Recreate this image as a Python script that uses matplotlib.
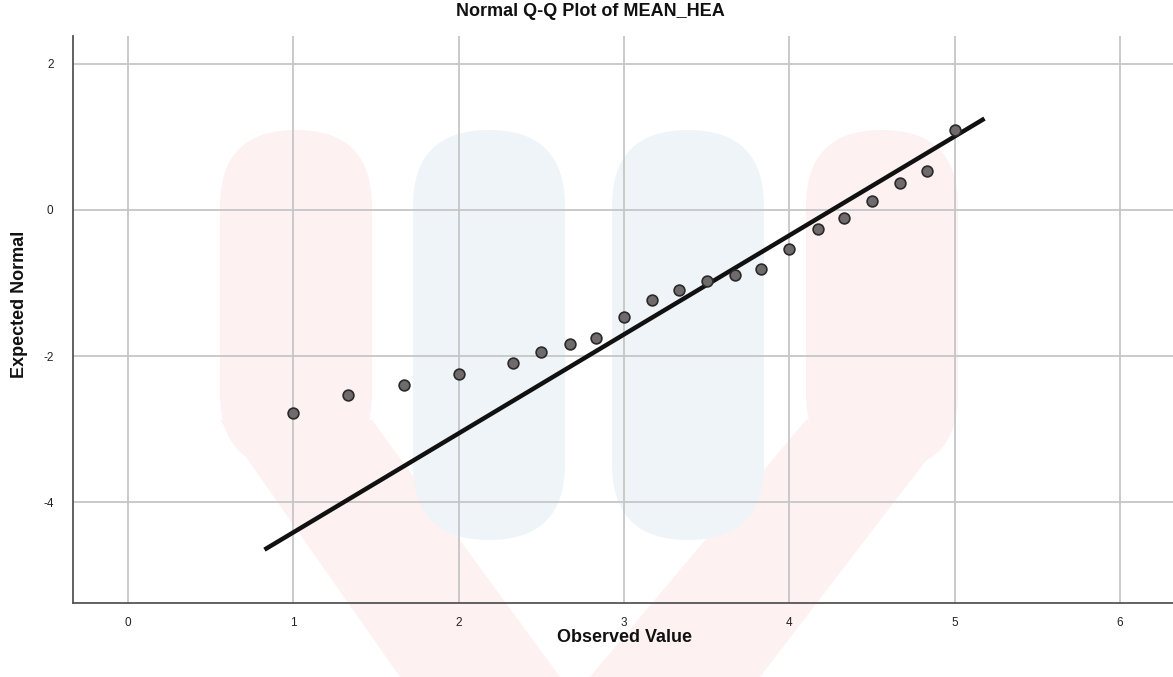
import matplotlib
matplotlib.use("Agg")
import matplotlib.pyplot as plt
from matplotlib.patches import FancyBboxPatch, Polygon

plt.rcParams["font.family"] = ["Liberation Sans", "DejaVu Sans"]
plt.rcParams["axes.unicode_minus"] = False

observed = [1.00, 1.33, 1.67, 2.00, 2.33, 2.50, 2.67, 2.83, 3.00, 3.17, 3.33,
            3.50, 3.67, 3.83, 4.00, 4.17, 4.33, 4.50, 4.67, 4.83, 5.00]
expected = [-2.78, -2.54, -2.40, -2.25, -2.10, -1.94, -1.84, -1.75, -1.47, -1.23, -1.10,
            -0.97, -0.89, -0.81, -0.54, -0.26, -0.11, 0.12, 0.37, 0.53, 1.10]

# reference line ends
line_x = [0.825, 5.18]
line_y = [-4.65, 1.25]

x_ticks = [0, 1, 2, 3, 4, 5, 6]
y_ticks = [-4, -2, 0, 2]

W, H = 1173, 677
fig = plt.figure(figsize=(W / 100, H / 100), dpi=100)

# faint watermark behind the chart, drawn in pixel space
bg = fig.add_axes([0, 0, 1, 1], zorder=0)
bg.set_xlim(0, W)
bg.set_ylim(H, 0)
bg.axis("off")
pink = "#fdf1f1"
blue = "#eff4f8"
bg.add_patch(Polygon([(220, 420), (372, 420), (560, 677), (400, 677)], closed=True,
                     fc=pink, ec="none"))
bg.add_patch(Polygon([(806, 420), (957, 420), (760, 677), (590, 677)], closed=True,
                     fc=pink, ec="none"))
for x0, col, bottom in [(220, pink, 470), (413, blue, 540), (612, blue, 540), (806, pink, 470)]:
    bg.add_patch(FancyBboxPatch((x0, 130), 152, bottom - 130,
                                boxstyle="round,pad=0,rounding_size=76",
                                fc=col, ec="none"))

ax = fig.add_axes([73 / W, 1 - 603 / H, 1 - 73 / W, (603 - 36) / H], zorder=1)
ax.patch.set_alpha(0)

ax.set_xlim(-0.333, 6.32)
ax.set_ylim(-5.38, 2.38)
ax.set_xticks(x_ticks)
ax.set_yticks(y_ticks)
ax.grid(True, color="#c6c6c6", linewidth=1.3)
ax.set_axisbelow(True)
ax.tick_params(length=0, labelsize=8.5, colors="#222222")
ax.tick_params(axis="x", pad=10)
ax.tick_params(axis="y", pad=14)

for side in ["top", "right"]:
    ax.spines[side].set_visible(False)
for side in ["left", "bottom"]:
    ax.spines[side].set_color("#555555")
    ax.spines[side].set_linewidth(1.3)

ax.plot(line_x, line_y, color="#111111", linewidth=3.2, solid_capstyle="butt", zorder=3)
ax.scatter(observed, expected, s=60, facecolor="#6f6a6b", edgecolor="#2a2a2a",
           linewidth=1.2, zorder=4)

fig.text(590 / W, 1 - 12 / H, "Normal Q-Q Plot of MEAN_HEA", ha="center", va="center",
         fontsize=13, fontweight="bold", color="#111111")
fig.text(624 / W, 1 - 637 / H, "Observed Value", ha="center", va="center",
         fontsize=13, fontweight="bold", color="#111111")
fig.text(20 / W, 1 - 304 / H, "Expected Normal", ha="center", va="center",
         rotation=90, fontsize=13, fontweight="bold", color="#111111")

fig.savefig("out.png", dpi=100)
